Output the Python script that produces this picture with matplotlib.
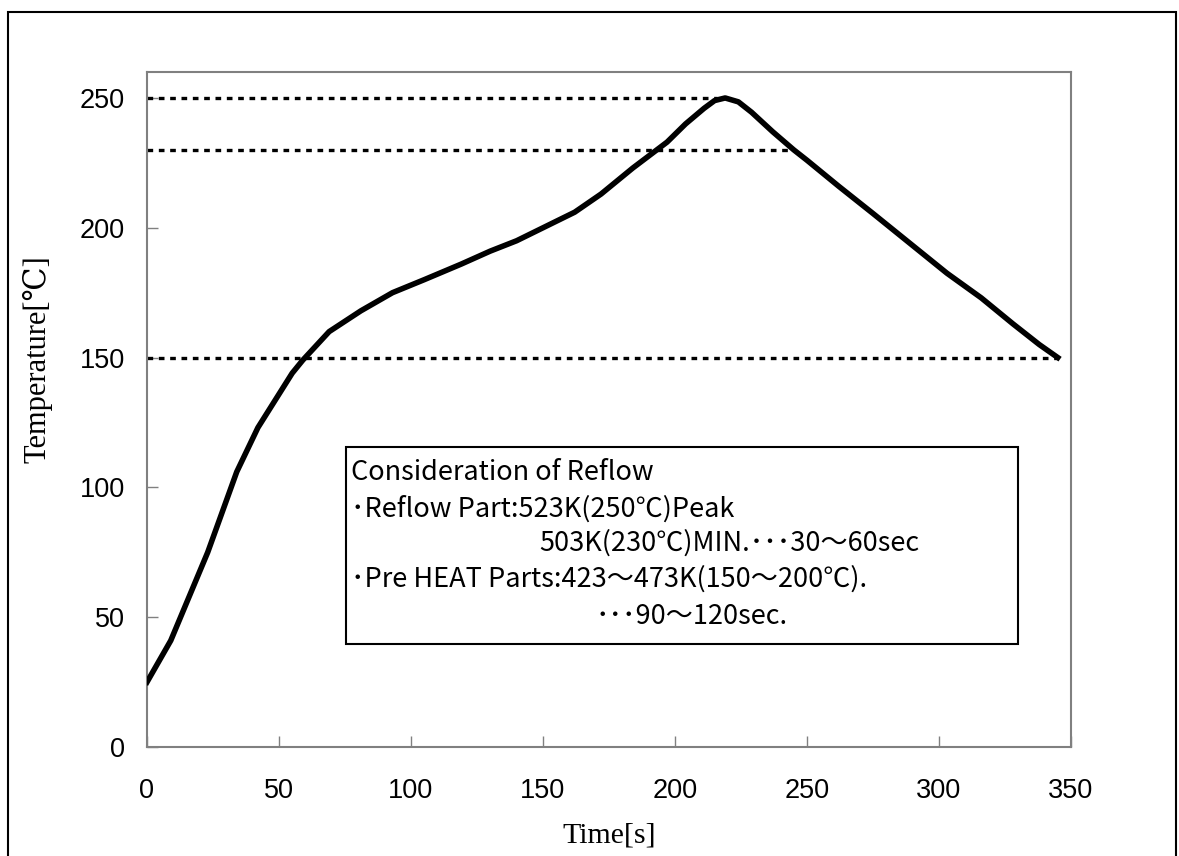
import matplotlib
matplotlib.use('Agg')
import matplotlib.pyplot as plt
import matplotlib.patches as patches

# reflow profile
time_s = [0, 9, 23, 34, 42, 55, 59, 69, 81, 93, 105, 119, 130, 140, 150, 162, 172, 184,
          197, 204, 211, 215, 219, 224, 229, 237, 245, 250, 262, 275, 289, 303, 316,
          328, 338, 345]
temp_c = [25, 41, 75, 106, 123, 144, 149, 160, 168, 175, 180, 186, 191, 195, 200, 206,
          213, 223, 233, 240, 246, 249, 250, 248.5, 244.5, 237, 230, 226, 216, 205.5,
          194, 182.5, 173, 163, 155, 150]

ref_levels = [250, 230, 150]
ref_ends = [216, 243, 345]

note_lines = ['Consideration of Reflow',
              '･Reflow Part:523K(250℃)Peak',
              '503K(230℃)MIN.･･･30～60sec',
              '･Pre HEAT Parts:423～473K(150～200℃).',
              '･･･90～120sec.']

fig = plt.figure(figsize=(11.79, 8.56), dpi=100)
ax = fig.add_axes([147/1179, 1-747/856, 924/1179, 675/856])

# reference dotted lines
for lev, xe in zip(ref_levels, ref_ends):
    ax.plot([0, xe], [lev, lev], color='black', lw=2.4, linestyle=(0, (1.7, 1.7)),
            dash_capstyle='butt', zorder=2)

ax.plot(time_s, temp_c, color='black', lw=4, solid_joinstyle='round', zorder=3)

ax.set_xlim(0, 350)
ax.set_ylim(0, 260)
ax.set_xticks(range(0, 351, 50))
ax.set_yticks(range(0, 251, 50))
for sp in ax.spines.values():
    sp.set_color('#808080')
    sp.set_linewidth(1.5)
ax.tick_params(direction='in', length=8, width=1, color='#808080', labelsize=19.5)
ax.tick_params(axis='x', pad=22)
ax.tick_params(axis='y', pad=16)
for lab in ax.get_xticklabels() + ax.get_yticklabels():
    lab.set_family(['Liberation Sans', 'DejaVu Sans'])

serif = ['Liberation Serif', 'DejaVu Serif']
ax.set_xlabel('Time[s]', family=serif, fontsize=21.5)
ax.set_ylabel('Temperature[℃]', family=serif, fontsize=22)
ax.xaxis.set_label_coords(0.5, -0.112)
ax.yaxis.set_label_coords(-0.102, 0.575)

# note box
ax.add_patch(patches.Rectangle((75.4, 39.7), 254.6, 75.9, facecolor='white', edgecolor='black',
                               lw=1.5, zorder=4))
jp = ['Noto Sans CJK JP', 'DejaVu Sans']
line_y = [102.8, 88.6, 75.5, 61.6, 47.4]
line_x = [77.3, 77.3, 148.5, 77.3, 169.7]
for tx, ty, s in zip(line_x, line_y, note_lines):
    ax.text(tx, ty, s, family=jp, fontsize=19.5, va='baseline', ha='left', zorder=5)

# outer frame of the picture
fig.patches.append(patches.Rectangle((8/1179, -0.05), 1168/1179, 1.05 - 12/856,
                                     transform=fig.transFigure, fill=False,
                                     edgecolor='black', lw=1.5))

fig.savefig('out.png', dpi=100)
